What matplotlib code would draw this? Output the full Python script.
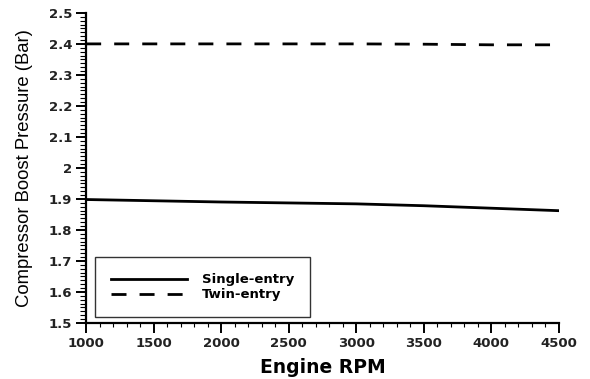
import numpy as np
import matplotlib
matplotlib.use('Agg')
import matplotlib.pyplot as plt
from matplotlib.ticker import MultipleLocator, AutoMinorLocator

plt.rcParams['font.family'] = ['DejaVu Sans']

# 数据
rpm = [1000, 1500, 2000, 2500, 3000, 3500, 4000, 4500]
single_entry = [1.898, 1.894, 1.890, 1.887, 1.884, 1.878, 1.870, 1.862]
twin_entry = [2.400, 2.400, 2.400, 2.400, 2.400, 2.399, 2.397, 2.397]
y_ticks = [1.5, 1.6, 1.7, 1.8, 1.9, 2.0, 2.1, 2.2, 2.3, 2.4, 2.5]
y_tick_labels = ['1.5', '1.6', '1.7', '1.8', '1.9', '2', '2.1', '2.2', '2.3', '2.4', '2.5']

fig = plt.figure(figsize=(5.9, 3.79), dpi=100)
ax = fig.add_axes([0.146, 0.148, 0.801, 0.818])

ax.plot(rpm, single_entry, color='black', linewidth=2.0, label='Single-entry')
ax.plot(rpm, twin_entry, color='black', linewidth=2.0, dashes=(5.4, 4.7), label='Twin-entry')

ax.set_xlim(1000, 4500)
ax.set_ylim(1.5, 2.5)
ax.xaxis.set_major_locator(MultipleLocator(500))
ax.xaxis.set_minor_locator(MultipleLocator(100))
ax.set_yticks(y_ticks)
ax.set_yticklabels(y_tick_labels)
ax.yaxis.set_minor_locator(AutoMinorLocator(8))

ax.spines['top'].set_visible(False)
ax.spines['right'].set_visible(False)
ax.spines['left'].set_linewidth(1.6)
ax.spines['bottom'].set_linewidth(1.6)
ax.tick_params(axis='both', which='major', direction='out', length=7, width=1.4,
               labelsize=9.5, pad=3)
ax.tick_params(axis='y', which='minor', direction='out', length=4, width=0.8)
ax.tick_params(axis='x', which='minor', direction='out', length=3, width=0.8)
for lab in ax.get_xticklabels() + ax.get_yticklabels():
    lab.set_fontweight('bold')
    lab.set_color('#222222')

ax.set_xlabel('Engine RPM', fontsize=13.5, fontweight='bold')
ax.xaxis.set_label_coords(0.5, -0.113)
ax.set_ylabel('Compressor Boost Pressure (Bar)', fontsize=13.3, family='Liberation Sans')
ax.yaxis.set_label_coords(-0.112, 0.5)

leg = ax.legend(loc='lower left', bbox_to_anchor=(0.019, 0.019), prop={'weight': 'bold', 'size': 9.5},
                frameon=True, fancybox=False, edgecolor='black', handlelength=5.75,
                borderpad=1.2, labelspacing=0.15, handletextpad=1.15, borderaxespad=0)
leg.get_frame().set_linewidth(1.0)

plt.savefig('out.png', dpi=100)
